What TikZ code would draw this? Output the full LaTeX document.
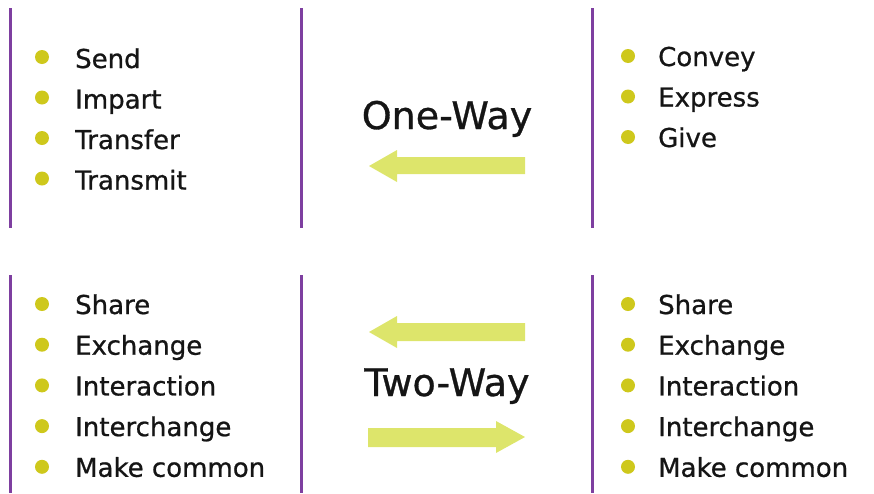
\documentclass[tikz,border=0pt]{standalone}
\usepackage{fontspec}
\setmainfont{DejaVu Sans}[FakeBold=0.8]
\definecolor{divider}{HTML}{7E3FA0}
\definecolor{dotcol}{HTML}{CEC81C}
\definecolor{arrowcol}{HTML}{DDE56B}
\definecolor{txt}{HTML}{151515}
\tikzset{
  divline/.style={draw=divider, line width=3pt},
  bulletdot/.style={circle, fill=dotcol, inner sep=0pt, minimum size=14pt},
  item/.style={anchor=base west, inner sep=0pt, text=txt, font=\fontsize{26}{30}\selectfont},
  title/.style={anchor=base, inner sep=0pt, text=txt, font=\fontsize{38}{42}\selectfont},
  fatarrow/.style={fill=arrowcol, draw=none}
}
\begin{document}
\begin{tikzpicture}[x=1pt,y=-1pt]
\useasboundingbox (0,0) rectangle (874,493);
% dividers
\coordinate (l1t) at (10,8);   \coordinate (l1b) at (10,228);
\coordinate (l2t) at (301,8);  \coordinate (l2b) at (301,228);
\coordinate (l3t) at (592,8);  \coordinate (l3b) at (592,228);
\coordinate (l4t) at (10,275); \coordinate (l4b) at (10,493);
\coordinate (l5t) at (301,275);\coordinate (l5b) at (301,493);
\coordinate (l6t) at (592,275);\coordinate (l6b) at (592,493);
\draw[divline] (l1t) -- (l1b);
\draw[divline] (l2t) -- (l2b);
\draw[divline] (l3t) -- (l3b);
\draw[divline] (l4t) -- (l4b);
\draw[divline] (l5t) -- (l5b);
\draw[divline] (l6t) -- (l6b);
% top-left list
\foreach \t [count=\i] in {Send,Impart,Transfer,Transmit}{
  \node[bulletdot] (tlb\i) at (42,{57+40.5*(\i-1)}) {};
  \node[item] (tl\i) at (75,{68+40.5*(\i-1)}) {\t};
}
% top-right list
\foreach \t [count=\i] in {Convey,Express,Give}{
  \node[bulletdot] (trb\i) at (628,{56+40.5*(\i-1)}) {};
  \node[item] (tr\i) at (658,{66+40.5*(\i-1)}) {\t};
}
% bottom lists
\foreach \t [count=\i] in {Share,Exchange,Interaction,Interchange,Make common}{
  \node[bulletdot] (blb\i) at (42,{304+40.7*(\i-1)}) {};
  \node[item] (bl\i) at (75,{314+40.7*(\i-1)}) {\t};
  \node[bulletdot] (brb\i) at (628,{304+40.7*(\i-1)}) {};
  \node[item] (br\i) at (658,{314+40.7*(\i-1)}) {\t};
}
% titles
\node[title] (oneway) at (447,129) {One-Way};
\node[title] (twoway) at (447,396) {Two-Way};
% arrows
\fill[fatarrow] (525,157) -- (397,157) -- (397,150) -- (369,166) -- (397,182) -- (397,174) -- (525,174) -- cycle;
\fill[fatarrow] (525,323) -- (397,323) -- (397,316) -- (369,332) -- (397,348) -- (397,341) -- (525,341) -- cycle;
\fill[fatarrow] (368,428) -- (496,428) -- (496,421) -- (525,437) -- (496,453) -- (496,447) -- (368,447) -- cycle;
\end{tikzpicture}
\end{document}
